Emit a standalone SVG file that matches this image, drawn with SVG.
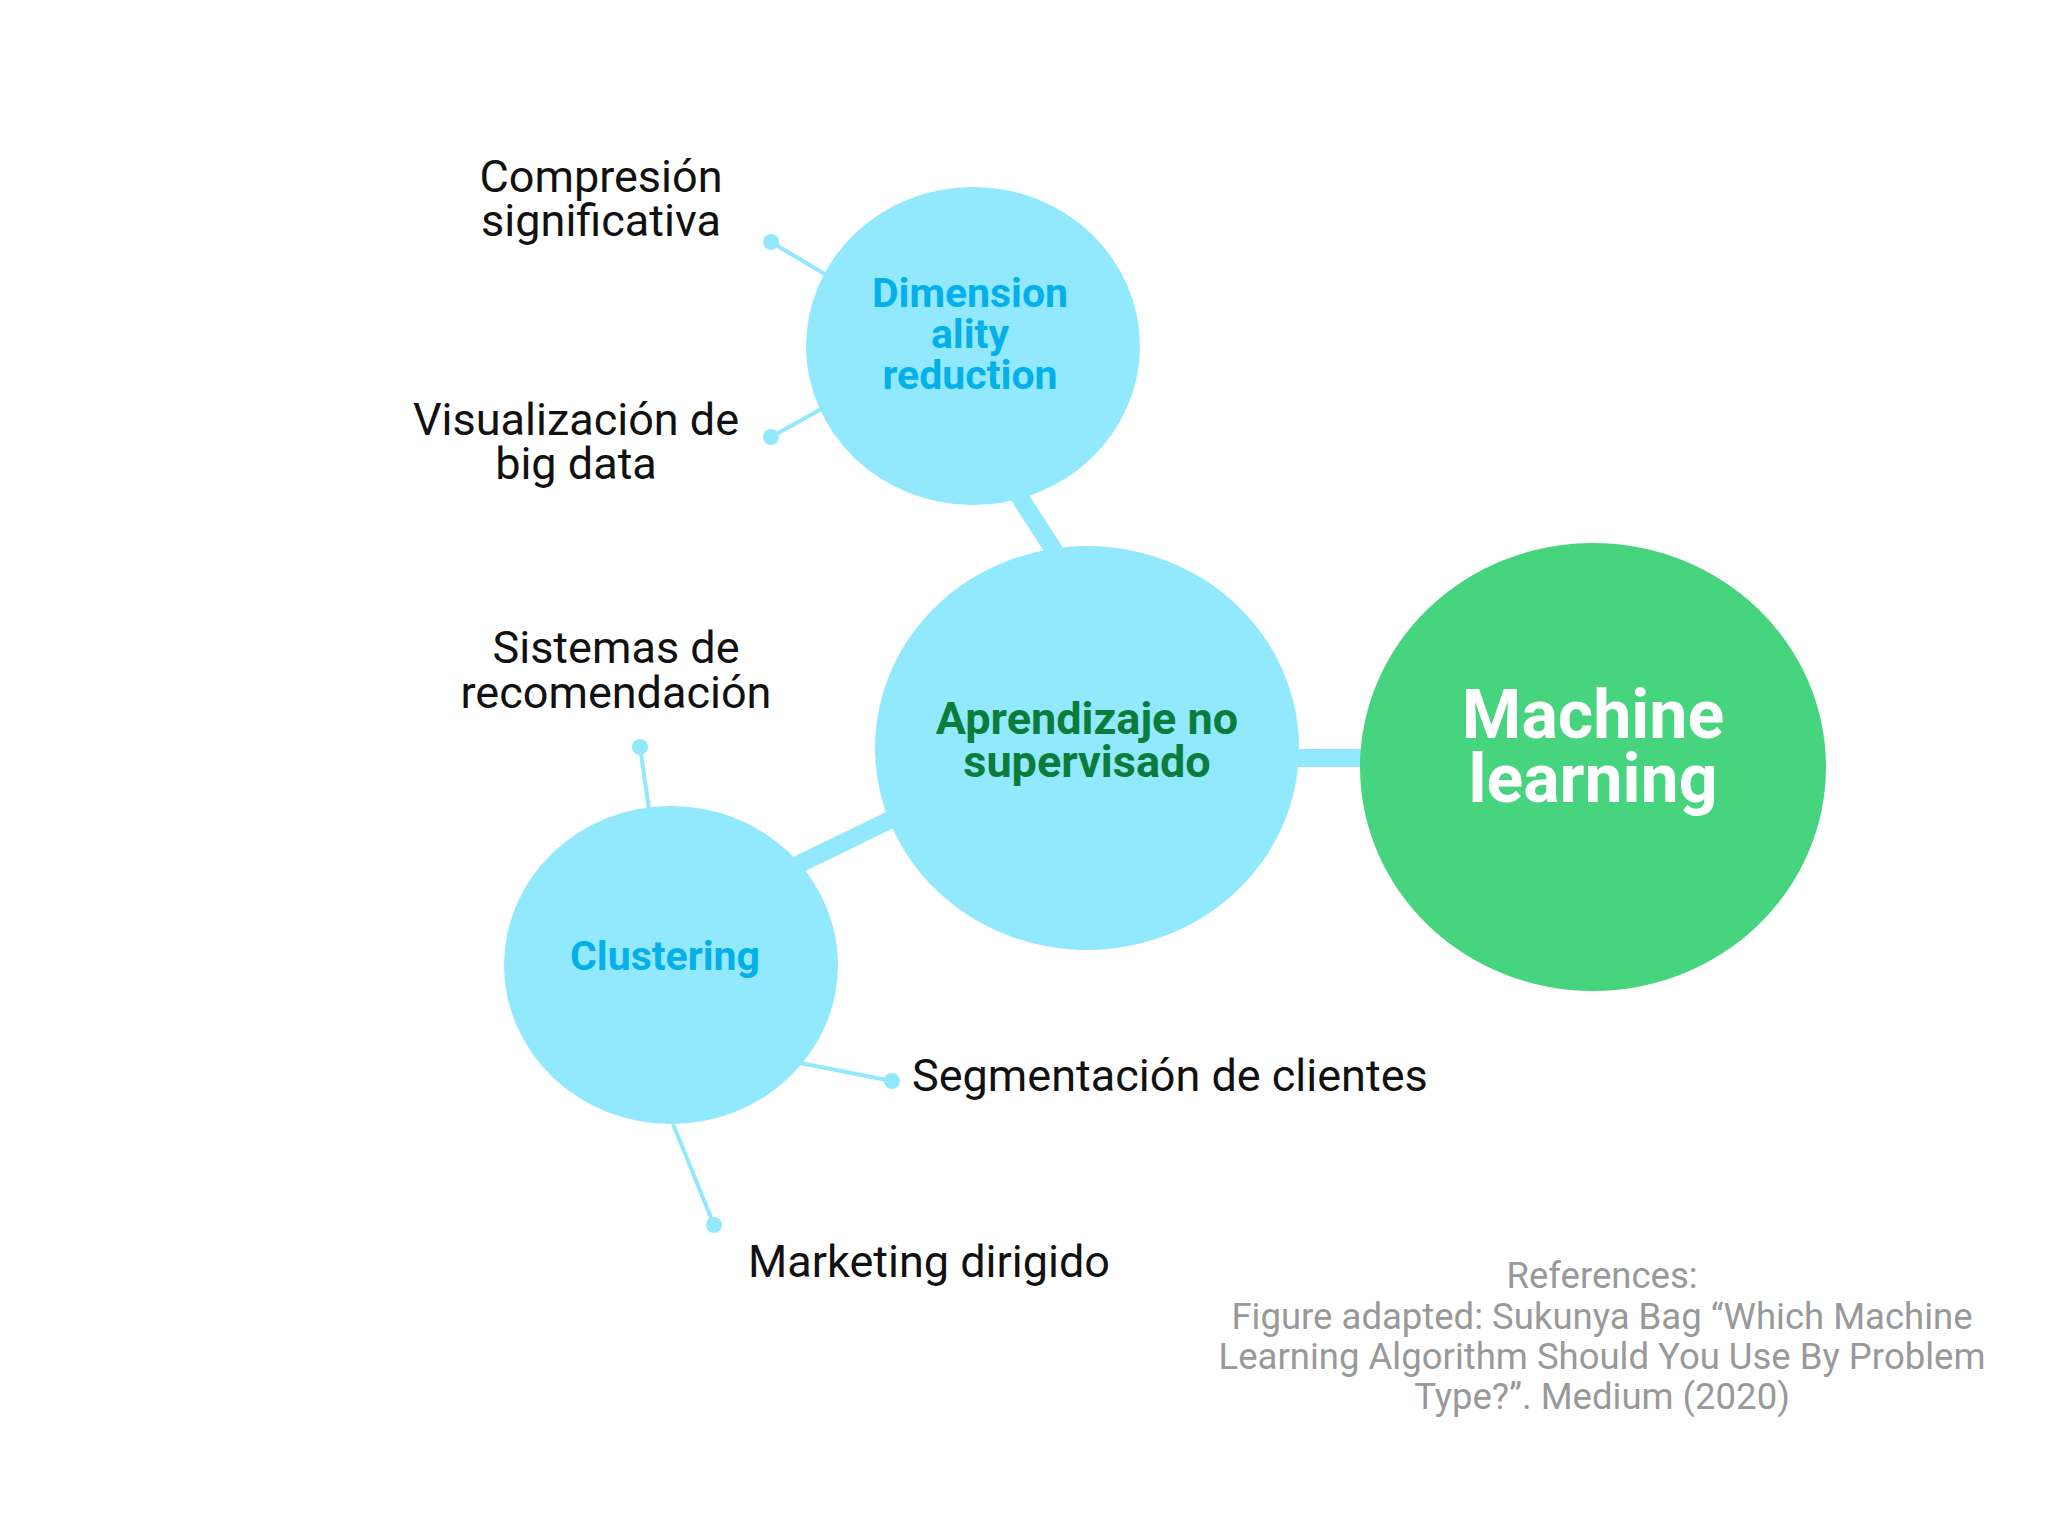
<svg xmlns="http://www.w3.org/2000/svg" width="2048" height="1536" viewBox="0 0 2048 1536">
<style>
text{font-family:Roboto,"Liberation Sans",sans-serif;text-anchor:middle}
.c{fill:#92e9fd}
.thick{stroke:#92e9fd;stroke-width:18}
.thin{stroke:#92e9fd;stroke-width:4}
.dot{fill:#92e9fd}
.lbl{font-size:45px;fill:#111}
.sub{font-size:41px;font-weight:bold;fill:#03b0ea}
</style>
<rect width="2048" height="1536" fill="#fff"/>
<g id="connectors">
<line class="thick" x1="1019" y1="496" x2="1055" y2="552"/>
<line class="thick" x1="1290" y1="758" x2="1370" y2="758"/>
<line class="thick" x1="890" y1="820" x2="795" y2="866"/>
<line class="thin" x1="771" y1="242" x2="828" y2="276"/>
<line class="thin" x1="771" y1="437" x2="825" y2="407"/>
<line class="thin" x1="640" y1="747" x2="649" y2="809"/>
<line class="thin" x1="892" y1="1081" x2="800" y2="1063"/>
<line class="thin" x1="714" y1="1225" x2="673" y2="1124"/>
<circle class="dot" cx="771" cy="242" r="8"/>
<circle class="dot" cx="771" cy="437" r="8"/>
<circle class="dot" cx="640" cy="747" r="8"/>
<circle class="dot" cx="892" cy="1081" r="8"/>
<circle class="dot" cx="714" cy="1225" r="8"/>
</g>
<g id="dim"><ellipse class="c" cx="973" cy="346" rx="167" ry="159"/>
<text class="sub" x="970" y="307">Dimension</text><text class="sub" x="970" y="348">ality</text><text class="sub" x="970" y="389">reduction</text></g>
<g id="apr"><ellipse class="c" cx="1087" cy="748" rx="212" ry="202"/>
<text x="1087" y="734" font-size="45" font-weight="bold" fill="#0a7d3c">Aprendizaje no</text><text x="1087" y="777" font-size="45" font-weight="bold" fill="#0a7d3c">supervisado</text></g>
<g id="clust"><ellipse class="c" cx="671" cy="965" rx="167" ry="159"/>
<text class="sub" x="665" y="970">Clustering</text></g>
<g id="ml"><ellipse cx="1593" cy="767" rx="233" ry="224" fill="#47d47f"/>
<text x="1593" y="738" font-size="68" font-weight="bold" fill="#fff">Machine</text><text x="1593" y="802" font-size="68" font-weight="bold" fill="#fff">learning</text></g>
<g id="labels">
<text class="lbl" x="601" y="192">Compresión</text><text class="lbl" x="601" y="236">significativa</text>
<text class="lbl" x="576" y="435">Visualización de</text><text class="lbl" x="576" y="479">big data</text>
<text class="lbl" x="616" y="663">Sistemas de</text><text class="lbl" x="616" y="708">recomendación</text>
<text class="lbl" x="912" y="1091" style="text-anchor:start">Segmentación de clientes</text>
<text class="lbl" x="748" y="1277" style="text-anchor:start">Marketing dirigido</text>
</g>
<g id="refs">
<text x="1602" y="1288" fill="#999" font-size="36.5">References:</text>
<text x="1602" y="1329" fill="#999" font-size="36.5">Figure adapted: Sukunya Bag “Which Machine</text>
<text x="1602" y="1369" fill="#999" font-size="36.5">Learning Algorithm Should You Use By Problem</text>
<text x="1602" y="1409" fill="#999" font-size="36.5">Type?”. Medium (2020)</text>
</g>
</svg>
